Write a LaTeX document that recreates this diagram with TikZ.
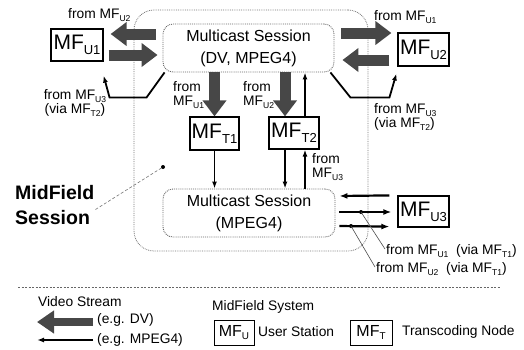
\documentclass[tikz,border=0pt]{standalone}
\usepackage{fontspec}
\setmainfont{Liberation Sans}
\usetikzlibrary{arrows.meta,calc}
\newcommand\lsub[1]{\raisebox{-0.45ex}{\scalebox{0.62}{#1}}}
\begin{document}
\begin{tikzpicture}[x=1pt,y=-1pt,
  lbl/.style={font=\fontsize{13.8}{14.5}\selectfont, inner sep=0, align=left},
  mfbox/.style={draw, line width=1.2pt, inner sep=0, font=\fontsize{21}{24}\selectfont},
  sess/.style={draw=black!60, densely dotted, line width=0.9pt, rounded corners=10pt, align=center, font=\fontsize{16}{22}\selectfont, minimum width=171pt, minimum height=48pt},
  fat/.style={line width=11pt, black!72, -{Triangle[width=23pt,length=16pt]}},
  thinarr/.style={line width=1.4pt, -{Latex[length=7pt,width=5pt]}},
  medarr/.style={line width=2.2pt, -{Latex[length=8pt,width=6pt]}},
  leader/.style={line width=0.6pt, black!70},
 ]
\useasboundingbox (0,0) rectangle (524,349);
% MidField session area
\node[draw=black!55, densely dotted, line width=0.8pt, rounded corners=20pt, minimum width=234pt, minimum height=241pt] (mfs) at (251,130.5) {};
% sessions
\node[sess] (ts) at (248.5,48) {Multicast Session\\(DV, MPEG4)};
\node[sess, minimum width=172pt] (bs) at (249,213) {Multicast Session\\(MPEG4)};
% stations
\node[mfbox, minimum width=52pt, minimum height=32pt] (u1) at (77,45) {MF\lsub{U1}};
\node[mfbox, minimum width=51pt, minimum height=33pt] (u2) at (423.5,49.5) {MF\lsub{U2}};
\node[mfbox, minimum width=49pt, minimum height=33pt] (t1) at (214.5,133.5) {MF\lsub{T1}};
\node[mfbox, minimum width=50pt, minimum height=32pt] (t2) at (294,133) {MF\lsub{T2}};
\node[mfbox, minimum width=51pt, minimum height=31pt] (u3) at (423.5,211.5) {MF\lsub{U3}};
% fat arrows
\draw[fat] ($(ts.west)+(-7,-14)$) -- ($(u1.east)+(7,-11)$);
\draw[fat] ($(u1.east)+(5,10)$) -- ($(ts.west)+(-5,7)$);
\draw[fat] ($(ts.east)+(7,-15)$) -- ($(u2.west)+(-6,-16.5)$);
\draw[fat] ($(u2.west)+(-8,10.5)$) -- ($(ts.east)+(8,12)$);
\draw[fat] (ts.south -| t1.north) -- (t1.north);
\draw[fat] ($(ts.south -| t2.north)+(-9,0)$) -- ($(t2.north)+(-9,0)$);
% labels top
\node[lbl, anchor=west] (lu2) at (68,15) {from MF\lsub{U2}};
\node[lbl, anchor=west] (lu1) at (374,17) {from MF\lsub{U1}};
\node[lbl, anchor=west] (lt1) at (173,95) {from\\MF\lsub{U1}};
\node[lbl, anchor=west] (lt2) at (243,95) {from\\MF\lsub{U2}};
% bent arrows
\draw[thinarr, line width=1.8pt] ($(ts.south west)+(2,0)$) -- ++(-18,25) -- ++(-37,0) -- ($(u1.south east)+(0,14)$);
\draw[thinarr, line width=1.8pt] ($(ts.south east)+(-4,0)$) -- ++(20,25) -- ++(39,0) -- ($(u2.south west)+(-1,7)$);
\node[lbl, align=center] (lv1) at (75,103) {from MF\lsub{U3}\\(via MF\lsub{T2})};
\node[lbl, anchor=west] (lv2) at (374,117) {from MF\lsub{U3}\\(via MF\lsub{T2})};
% thin arrows between T nodes and lower session
\draw[thinarr] (t1.south) -- (bs.north -| t1.south);
\draw[thinarr] ($(t2.south)+(-9,0)$) -- ($(bs.north -| t2.south)+(-9,0)$);
\draw[thinarr] ($(bs.north -| t2.north)+(11,0)$) -- ($(t2.south)+(11,0)$);
\draw[thinarr] ($(t2.north)+(11,0)$) -- ($(ts.south -| t2.north)+(11,0)$);
\node[lbl, anchor=west] (lu3) at (312,167) {from\\MF\lsub{U3}};
% U3 arrows
\draw[medarr] ($(u3.north west)+(-8,0)$) -- ($(bs.east)+(4,-17)$);
\draw[medarr] ($(bs.east)+(4,-1)$) -- ($(u3.west)+(-6,0.5)$);
\draw[medarr] ($(bs.east)+(4,13)$) -- ($(u3.south west)+(-8,-1)$);
\node[lbl, anchor=west] (f1) at (386,251) {from MF\lsub{U1}\ \ (via MF\lsub{T1})};
\node[lbl, anchor=west] (f2) at (376,269) {from MF\lsub{U2}\ \ (via MF\lsub{T1})};
\coordinate (d1) at (361,212);
\coordinate (d2) at (351,226);
\fill (d1) circle (2);
\fill (d2) circle (2);
\draw[leader] (d1) -- ($(f1.west)+(-1,-2)$);
\draw[leader] (d2) -- ($(f2.west)+(-1,-2)$);
% MidField Session label
\node[font=\bfseries\fontsize{19.5}{25}\selectfont, align=left, anchor=west, inner sep=0] (msl) at (15,205.5) {MidField\\Session};
\coordinate (msdot) at (163,167);
\fill (msdot) circle (2);
\draw[leader, densely dashed, black!55] ($(msl.east)+(1,4)$) -- (msdot);
% separator
\coordinate (sepl) at (18,287);
\coordinate (sepr) at (500,287);
\draw[line width=0.6pt, black!60, dash pattern=on 2pt off 1.5pt] (sepl) -- (sepr);
% legend
\node[lbl, anchor=west] (vs) at (38,302) {Video Stream};
\node[lbl, anchor=west] (eg1) at (97,320) {(e.g. DV)};
\node[lbl, anchor=west] (eg2) at (97,340) {(e.g. MPEG4)};
\draw[line width=8pt, black!72, -{Triangle[width=22pt,length=17pt]}] ($(eg1.west)+(-4,2)$) -- ++(-56,0);
\draw[thinarr] ($(eg2.west)+(-4,0)$) -- ++(-56,0);
\node[lbl, anchor=west] (mfsys) at (212,307) {MidField System};
\node[mfbox, font=\fontsize{16}{18}\selectfont, minimum width=40pt, minimum height=25pt, line width=1pt] (lu) at (234,332.5) {MF\lsub{U}};
\node[lbl, anchor=west] (us) at (258,332) {User Station};
\node[mfbox, font=\fontsize{16}{18}\selectfont, minimum width=42pt, minimum height=25pt, line width=1pt] (lt) at (371,332.5) {MF\lsub{T}};
\node[lbl, anchor=west] (tn) at (402,332) {Transcoding Node};
\end{tikzpicture}
\end{document}
